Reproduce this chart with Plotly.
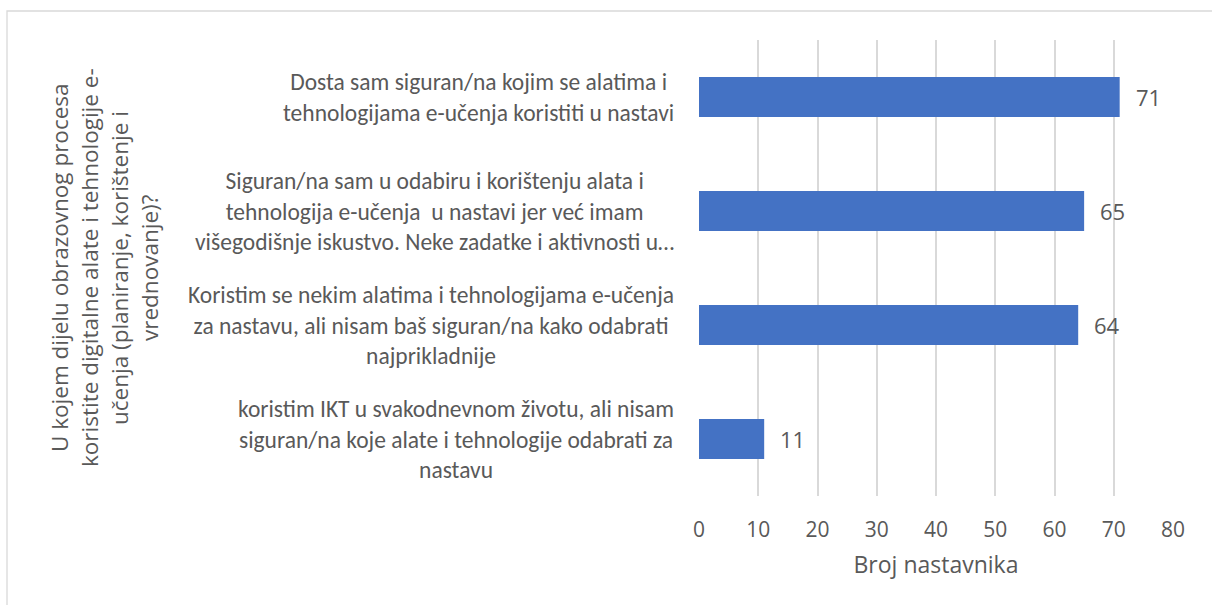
import plotly.graph_objects as go

# Survey responses (category labels, top to bottom) and teacher counts
categories = [
    "Dosta sam siguran/na kojim se alatima i<br>tehnologijama e-učenja koristiti u nastavi",
    "Siguran/na sam u odabiru i korištenju alata i<br>tehnologija e-učenja  u nastavi jer već imam<br>višegodišnje iskustvo. Neke zadatke i aktivnosti u…",
    "Koristim se nekim alatima i tehnologijama e-učenja<br>za nastavu, ali nisam baš siguran/na kako odabrati<br>najprikladnije",
    "koristim IKT u svakodnevnom životu, ali nisam<br>siguran/na koje alate i tehnologije odabrati za<br>nastavu",
]
counts = [71, 65, 64, 11]
x_ticks = [0, 10, 20, 30, 40, 50, 60, 70, 80]
x_title = "Broj nastavnika"
y_title_lines = [
    "U kojem dijelu obrazovnog procesa",
    "koristite digitalne alate i tehnologije e-",
    "učenja (planiranje, korištenje i",
    "vrednovanje)?",
]

W, H = 1212, 605
L, R, T, B = 699, 39, 40, 109
plot_w = W - L - R
plot_h = H - T - B

TEXT = "#595959"
GRID = "#d9d9d9"
BAR = "#4472C4"
label_font = "Carlito, Roboto, sans-serif"
ui_font = "'Open Sans', 'Noto Sans', sans-serif"

ids = list(range(len(categories)))

fig = go.Figure(
    go.Bar(
        x=counts,
        y=ids,
        orientation="h",
        width=0.35,
        marker=dict(color=BAR, line=dict(width=0)),
        hoverinfo="skip",
    )
)

annotations = []
# Category labels: right-aligned block, lines centred within it
for i, cat in zip(ids, categories):
    annotations.append(dict(
        x=0, xref="paper", y=i, yref="y", text=cat, showarrow=False,
        xanchor="right", yanchor="middle", align="center", xshift=-23,
        font=dict(family=label_font, size=23.5, color=TEXT),
    ))
# Value labels beside each bar
for i, v in zip(ids, counts):
    annotations.append(dict(
        x=v, xref="x", y=i, yref="y", text=str(v), showarrow=False,
        xanchor="left", yanchor="middle", xshift=14,
        font=dict(family=ui_font, size=22, color=TEXT),
    ))
# Rotated y-axis title, one line per annotation
for k, line in enumerate(y_title_lines):
    px = 59 + 30 * k
    annotations.append(dict(
        x=(px - L) / plot_w, xref="paper", y=0.5, yref="paper", text=line,
        showarrow=False, textangle=-90, xanchor="center", yanchor="middle",
        font=dict(family=ui_font, size=22.5, color=TEXT),
    ))

# Light outer frame of the chart area
fig.add_shape(
    type="rect", xref="paper", yref="paper",
    x0=(7 - L) / plot_w, x1=(W + 5 - L) / plot_w,
    y0=(T + plot_h - (H + 5)) / plot_h, y1=(T + plot_h - 11) / plot_h,
    line=dict(color=GRID, width=1.3), fillcolor="rgba(0,0,0,0)", layer="below",
)

fig.update_layout(
    width=W, height=H,
    margin=dict(l=L, r=R, t=T, b=B, pad=0),
    paper_bgcolor="white", plot_bgcolor="white",
    showlegend=False,
    annotations=annotations,
    xaxis=dict(
        range=[0, 80], tickvals=x_ticks, ticktext=[str(t) for t in x_ticks],
        showgrid=True, gridcolor=GRID, gridwidth=1.5, zeroline=False,
        showline=False, ticks="", ticklabelstandoff=19,
        tickfont=dict(family=ui_font, size=21, color=TEXT),
        title=dict(text=x_title, standoff=14,
                   font=dict(family=ui_font, size=23, color=TEXT)),
        fixedrange=True,
    ),
    yaxis=dict(
        range=[3.5, -0.5], showticklabels=False, showgrid=False,
        zeroline=False, showline=False, ticks="", fixedrange=True,
    ),
)

fig.write_html("out.html")
